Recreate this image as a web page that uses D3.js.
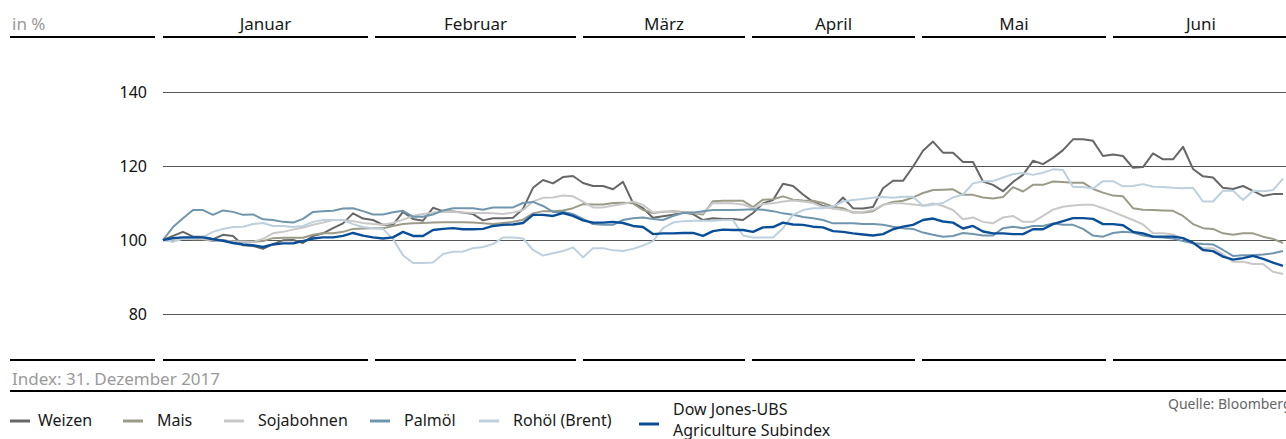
<!DOCTYPE html>
<html>
<head>
<meta charset="UTF-8">
<script src="https://cdn.jsdelivr.net/npm/d3@7/dist/d3.min.js"></script>
<style>
body{margin:0;background:#fff;overflow:hidden;}
text{font-family:"Noto Sans",sans-serif;}
</style>
</head>
<body>
<script>
// months, and trading-day index where each one begins
var months = ["Januar", "Februar", "März", "April", "Mai", "Juni"];
var monthStart = [0, 21.2, 42, 58.9, 75.9, 95];
var yTicks = [80, 100, 120, 140];

// index values (31.12.2017 = 100), one value per ~trading day
var weizen = [100,101.1,102.2,100.9,100.9,100.2,101.4,101.1,98.6,98.4,
  97.6,98.9,99.9,100,99.2,101.1,101.8,103.2,104.5,107.2,
  105.8,105.4,104.1,104.1,107.6,105.7,105.2,108.7,107.8,107.7,
  107.4,107.0,105.3,105.9,105.9,106.0,108.4,114.1,116.2,115.3,
  117.0,117.3,115.4,114.6,114.6,113.7,115.7,110.0,108.6,106.0,
  106.4,106.8,107.4,107.0,105.4,105.9,105.7,105.7,105.4,107.3,
  109.9,110.8,115.2,114.6,112.3,110.3,109.2,108.6,111.5,108.6,
  108.5,108.9,114.0,116.0,116.0,119.8,124.1,126.6,123.6,123.6,
  121.1,121.1,115.8,114.9,113.2,115.7,117.6,121.4,120.5,122.2,
  124.3,127.2,127.2,126.8,122.7,123.1,122.7,119.5,119.7,123.4,
  121.8,121.8,125.2,119.2,117.2,116.9,114.1,113.8,114.6,113.3,
  111.9,112.4,112.4];
var mais = [100,100.5,100.4,100.2,100.2,99.7,100,99.5,99.5,99.5,
  99.7,100.5,100.6,100.6,100.6,101.4,101.8,101.8,102.2,103.0,
  103.1,103.2,103.2,103.8,104.3,104.5,104.6,104.7,104.8,104.8,
  104.8,104.7,104.5,104.3,104.6,104.9,105.5,107.2,107.8,107.8,
  108.0,108.6,109.7,109.6,109.6,110.0,110.1,109.9,108.1,107.3,
  107.6,107.8,107.6,107.3,106.9,110.5,110.6,110.6,110.6,108.9,
  110.9,111.0,111.8,110.9,110.7,110.6,110.0,109.0,108.6,107.4,
  107.4,107.8,109.5,110.3,110.6,111.5,112.7,113.5,113.6,113.7,
  112.2,112.2,111.5,111.2,111.6,114.3,113.1,114.9,114.9,115.8,
  115.7,115.5,115.5,113.8,112.8,112.0,111.8,108.6,108.2,108.1,
  108.0,107.9,106.5,104.3,103.2,103.0,101.8,101.4,101.8,101.8,
  100.9,100.3,99.2];
var soja = [100,99.6,100.3,100.4,100.3,100,99.7,99.6,99.6,99.5,
  100.3,101.8,102.2,102.8,103.4,104.1,104.7,105.4,105.4,105.1,
  104.6,104.3,104.1,104.6,105.5,106.5,107.0,107.4,107.6,107.6,
  107.4,107.3,107.3,107.2,107.0,107.4,108.1,110.4,111.4,111.5,
  112.0,111.8,110.4,108.8,108.8,109.3,109.7,110.4,109.5,107.4,
  107.7,107.6,107.4,107.4,107.3,110.0,109.9,109.9,109.6,108.6,
  109.7,109.9,110.4,110.7,110.4,110.0,108.9,108.5,108.1,107.6,
  107.6,108.1,109.5,109.9,109.9,109.6,109.3,109.9,109.2,108.1,
  105.6,106.1,104.9,104.5,106.1,106.5,104.9,104.9,106.5,108.2,
  109.0,109.3,109.5,109.5,108.6,107.6,106.5,105.4,104.2,101.8,
  101.8,101.5,100.4,99.1,97.8,97.8,96.2,94.1,94.1,93.5,
  93.5,91.4,90.8];
var palmoel = [100,103.5,105.9,108.1,108.1,106.8,108.0,107.6,106.8,106.9,
  105.6,105.4,104.9,104.7,105.7,107.6,107.8,107.9,108.5,108.6,
  107.8,106.9,106.9,107.5,107.9,106.3,106.3,106.9,108.0,108.6,
  108.6,108.6,108.2,108.8,108.8,108.8,110.0,110.3,109.2,107.6,
  107.6,107.0,105.7,104.3,104.1,104.1,105.4,105.9,106.1,105.7,
  105.4,106.5,107.3,107.4,107.8,108.1,108.1,108.1,108.2,108.3,
  108.2,107.8,107.2,106.8,106.2,105.9,105.4,104.5,104.5,104.5,
  104.3,104.3,104.1,103.6,103.2,103.0,102.0,101.4,100.9,101.1,
  101.9,101.6,101.2,101.2,103.2,103.6,103.2,103.8,103.8,104.5,
  104.1,104.1,103.0,101.2,100.9,101.9,102.2,102.0,101.2,100.8,
  100.7,100.4,99.7,99.1,98.9,98.8,97.3,95.7,95.9,95.9,
  96.1,96.4,97.0];
var rohoel = [100,99.5,100.5,100.3,100.8,102.2,103.0,103.5,103.6,104.3,
  104.6,103.8,103.8,103.5,103.8,104.9,105.4,105.4,105.4,104.3,
  103.5,103.2,103.0,100.3,95.9,93.8,93.8,93.9,96.2,96.8,
  96.9,97.8,98.1,98.9,100.7,100.7,100.4,97.3,95.8,96.4,
  97.0,98.0,95.3,97.8,97.8,97.2,97.0,97.6,98.5,99.7,
  103.2,104.7,105.1,105.2,105.2,105.2,105.4,105.4,101.2,100.7,
  100.7,100.7,103.2,106.8,108.1,108.6,108.6,109.1,110.4,110.8,
  111.1,111.4,111.6,111.4,111.7,111.7,109.2,109.5,110.0,111.5,
  112.3,115.3,115.9,115.9,116.9,117.8,118.1,117.6,118.2,119.1,
  118.9,114.3,114.3,113.9,115.9,115.9,114.5,114.6,115.1,114.4,
  114.3,114.1,114.0,114.1,110.4,110.4,113.3,113.3,110.8,113.3,
  113.2,113.5,116.6];
var djubs = [100,100.5,100.7,100.7,100.7,100.2,99.8,99.2,98.8,98.6,
  98.1,98.8,99.1,99.1,99.7,100.4,100.7,100.7,101.1,101.9,
  101.2,100.7,100.4,100.7,102.2,101.1,101.1,102.7,103.0,103.2,
  102.9,102.9,103.0,103.8,104.1,104.2,104.6,106.8,106.8,106.5,
  107.3,106.5,105.3,104.7,104.7,104.9,104.6,103.8,103.5,101.6,
  101.8,101.8,101.9,101.9,101.1,102.4,102.8,102.7,102.7,102.2,
  103.4,103.5,104.7,104.2,104.1,103.6,103.4,102.4,102.2,101.8,
  101.5,101.2,101.6,102.9,103.6,104.1,105.4,105.8,105.0,104.7,
  103.1,103.8,102.3,101.8,101.8,101.6,101.6,102.9,102.9,104.3,
  105.1,105.9,105.9,105.7,104.3,104.3,104.0,102.2,101.8,100.9,
  100.9,100.9,100.5,99.3,97.3,97.0,95.5,94.7,95.1,95.7,
  94.9,93.9,93.0];

var names = ["Weizen", "Mais", "Sojabohnen", "Palmöl", "Rohöl (Brent)", "Dow Jones-UBS|Agriculture Subindex"];
var colors = ["#666666", "#9c9a88", "#c8c8c8", "#7096ad", "#bdd0dd", "#0a4e98"];
var seriesData = [weizen, mais, soja, palmoel, rohoel, djubs];

var width = 1286, height = 439;
var left = 163;

var x = d3.scaleLinear().domain([0, 112.3]).range([left, width]);
var y = d3.scaleLinear().domain([80, 140]).range([314, 92]);

var svg = d3.select("body").append("svg")
    .attr("width", width)
    .attr("height", height);

// header / footer bars
function bars(yy) {
    var g = svg.append("g");
    g.append("line")
        .attr("x1", 10).attr("x2", 155)
        .attr("y1", yy).attr("y2", yy)
        .attr("stroke", "#000").attr("stroke-width", 2);
    months.forEach(function(m, i) {
        var x0 = x(monthStart[i]);
        var x1 = i < months.length - 1 ? x(monthStart[i + 1]) - 7 : width;
        g.append("line")
            .attr("x1", x0).attr("x2", x1)
            .attr("y1", yy).attr("y2", yy)
            .attr("stroke", "#000").attr("stroke-width", 2);
    });
    return g;
}
bars(37);
bars(360);

months.forEach(function(m, i) {
    var x0 = x(monthStart[i]);
    var x1 = i < months.length - 1 ? x(monthStart[i + 1]) - 7 : width;
    svg.append("text")
        .attr("x", i < months.length - 1 ? (x0 + x1) / 2 : x0 + 88)
        .attr("y", 30)
        .attr("text-anchor", "middle")
        .attr("font-size", 17)
        .attr("fill", "#1a1a1a")
        .text(m);
});

svg.append("text")
    .attr("x", 12).attr("y", 30)
    .attr("font-size", 17)
    .attr("fill", "#9a9a9a")
    .text("in %");

// y grid + labels
var yAxis = d3.axisLeft(y).tickValues(yTicks).tickSize(-(width - left)).tickPadding(16);
var gY = svg.append("g")
    .attr("transform", "translate(" + left + ",0)")
    .call(yAxis);
gY.select(".domain").remove();
gY.selectAll(".tick line").attr("stroke", "#555").attr("stroke-width", 1.2);
gY.selectAll(".tick text")
    .attr("font-family", "'Liberation Sans', Arial, sans-serif")
    .attr("font-size", 16)
    .attr("fill", "#111");

// lines
var line = d3.line()
    .x(function(d, i) { return x(i); })
    .y(function(d) { return y(d); });

seriesData.forEach(function(s, k) {
    svg.append("path")
        .datum(s)
        .attr("fill", "none")
        .attr("stroke", colors[k])
        .attr("stroke-width", k == 5 ? 2.4 : 2)
        .attr("stroke-linejoin", "round")
        .attr("d", line);
});

// footer
svg.append("text")
    .attr("x", 12).attr("y", 385)
    .attr("font-size", 17)
    .attr("fill", "#9a9a9a")
    .text("Index: 31. Dezember 2017");

svg.append("line")
    .attr("x1", 10).attr("x2", width)
    .attr("y1", 391).attr("y2", 391)
    .attr("stroke", "#000").attr("stroke-width", 2);

svg.append("text")
    .attr("x", 1168).attr("y", 409)
    .attr("font-size", 14)
    .attr("fill", "#666")
    .text("Quelle: Bloomberg");

// legend (text start positions)
var legendX = [38, 157, 258, 404, 513, 673];
names.forEach(function(n, k) {
    var g = svg.append("g").attr("transform", "translate(" + legendX[k] + ",0)");
    var sw = k == 0 ? 28 : 34;
    g.append("line")
        .attr("x1", -sw).attr("x2", -sw + 20)
        .attr("y1", k == 5 ? 424 : 421).attr("y2", k == 5 ? 424 : 421)
        .attr("stroke", colors[k]).attr("stroke-width", 3);
    var parts = n.split("|");
    parts.forEach(function(p, j) {
        g.append("text")
            .attr("x", 0)
            .attr("y", parts.length > 1 ? 415 + j * 21 : 426)
            .attr("font-size", 16)
            .attr("fill", "#1a1a1a")
            .text(p);
    });
});
</script>
</body>
</html>
